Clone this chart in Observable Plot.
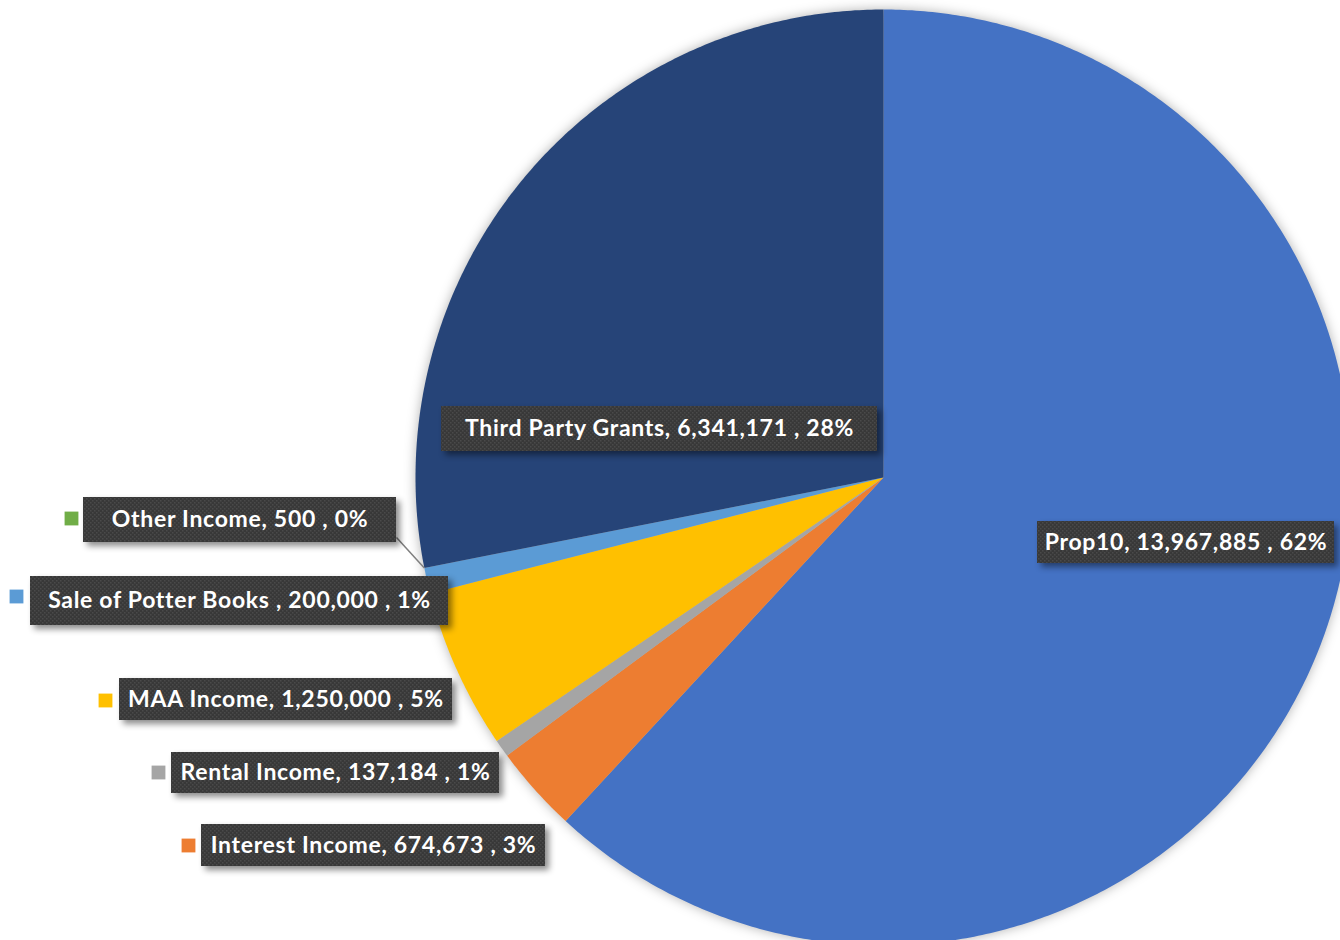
<!DOCTYPE html>
<html><head><meta charset="utf-8">
<script src="https://cdn.jsdelivr.net/npm/d3@7"></script>
<script src="https://cdn.jsdelivr.net/npm/@observablehq/plot@0.6"></script>
<style>body{margin:0;background:#fff;} svg{display:block}</style>
</head><body><div id="chart"></div>
<script>
// ---- data ----
const categories = ["Prop10", "Interest Income", "Rental Income", "MAA Income", "Sale of Potter Books ", "Other Income", "Third Party Grants"];
const values = [13967885, 674673, 137184, 1250000, 200000, 500, 6341171];
const percents = [62, 3, 1, 5, 1, 0, 28];
const colors = ["#4472C4", "#ED7D31", "#A5A5A5", "#FFC000", "#5B9BD5", "#70AD47", "#264478"];

// ---- layout (pixels) ----
const W = 1340, H = 940, CX = 883, CY = 477, R = 468;
const boxes = [ // [x1,x2,y1,y2]
  [1037, 1334, 521, 563],
  [201, 545, 824, 866],
  [171, 499, 752, 793],
  [119, 452, 678, 720],
  [30, 448, 576, 625],
  [83, 396, 497, 542],
  [441, 877, 406, 451]
];
const markers = [null, [188, 845], [158, 772], [105, 700], [16, 596], [71, 518], null];

const px = v => (v - CX) / R;
const py = v => (CY - v) / R;

// ---- pie geometry via d3.pie ----
const arcs = d3.pie().sort(null).value(d => d.value)(categories.map((c, i) => ({c, value: values[i]})));
const polys = [];
arcs.forEach(a => {
  const c = a.data.c;
  polys.push({c, x: 0, y: 0});
  const n = Math.max(2, Math.ceil((a.endAngle - a.startAngle) / (Math.PI / 360)));
  for (let k = 0; k <= n; k++) {
    const t = a.startAngle + (a.endAngle - a.startAngle) * k / n;
    polys.push({c, x: Math.sin(t), y: Math.cos(t)});
  }
});

const fmt = d3.format(",");
const labels = categories.map((c, i) => ({
  c,
  text: `${c}, ${fmt(values[i])} , ${percents[i]}%`,
  x1: px(boxes[i][0]), x2: px(boxes[i][1]), y1: py(boxes[i][2]), y2: py(boxes[i][3]),
  x: px((boxes[i][0] + boxes[i][1]) / 2), y: py((boxes[i][2] + boxes[i][3]) / 2)
}));
const markerData = markers.map((m, i) => m && {c: categories[i], x: px(m[0]), y: py(m[1])}).filter(Boolean);

// leader line for the zero slice (Other Income)
const oi = categories.indexOf("Other Income");
const oa = arcs[oi].startAngle;
const leader = [{x1: px(boxes[oi][1]), y1: py(boxes[oi][3] - 5), x2: Math.sin(oa), y2: Math.cos(oa)}];

const svg = Plot.plot({
  width: W, height: H,
  margin: 0,
  x: {domain: [px(0), px(W)], axis: null},
  y: {domain: [py(H), py(0)], axis: null},
  color: {domain: categories, range: colors},
  marks: [
    Plot.line(polys, {x: "x", y: "y", z: "c", fill: "c", stroke: "none", curve: "linear"}),
    Plot.link(leader, {x1: "x1", y1: "y1", x2: "x2", y2: "y2", stroke: "#7f7f7f", strokeWidth: 1.5}),
    Plot.rect(labels, {x1: "x1", x2: "x2", y1: "y1", y2: "y2", fill: "#3a3a3a"}),
    Plot.dot(markerData, {x: "x", y: "y", fill: "c", symbol: "square", r: 7.8}),
    Plot.text(labels, {x: "x", y: "y", text: "text", fill: "white", fontSize: 23, fontWeight: "bold", fontFamily: "Lato"})
  ]
});
document.getElementById("chart").append(svg);

// styling touches
const ns = "http://www.w3.org/2000/svg";
const defs = document.createElementNS(ns, "defs");
defs.innerHTML = `<pattern id="dots" width="4" height="4" patternUnits="userSpaceOnUse"><rect width="4" height="4" fill="#383838"/><rect x="0" y="0" width="1.5" height="1.5" fill="#4a4a4a"/><rect x="2" y="2" width="1.5" height="1.5" fill="#4a4a4a"/></pattern>`;
svg.insertBefore(defs, svg.firstChild);
const pie = svg.querySelector('g[aria-label="line"]');
if (pie) pie.style.filter = "drop-shadow(0px 0px 6px rgba(0,0,0,0.3))";
const rg = svg.querySelector('g[aria-label="rect"]');
if (rg) {
  rg.style.filter = "drop-shadow(4px 4px 3px rgba(0,0,0,0.45))";
  rg.querySelectorAll("rect").forEach(r => r.setAttribute("fill", "url(#dots)"));
}
const tg = svg.querySelector('g[aria-label="text"]');
if (tg) tg.style.letterSpacing = "0.7px";
</script>
</body></html>
